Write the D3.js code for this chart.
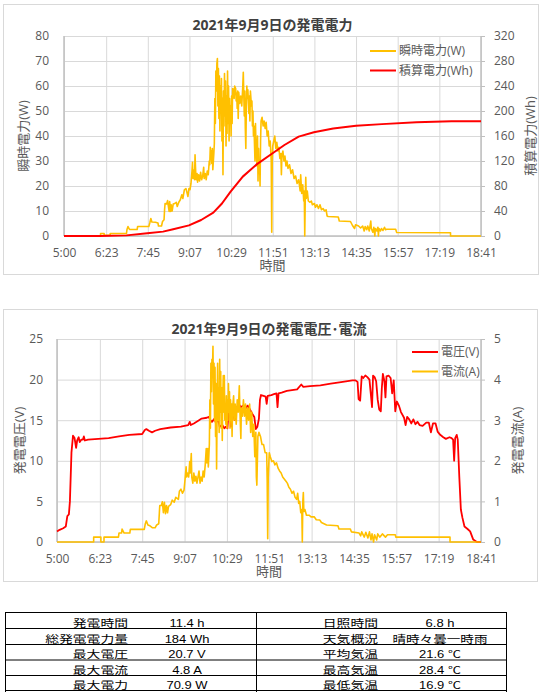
<!DOCTYPE html>
<html>
<head>
<meta charset="utf-8">
<style>
  body { margin: 0; background: #fff; }
  svg { display: block; }
  .grid line { stroke: #d9d9d9; stroke-width: 1; }
  .grid .domain { display: none; }
  .title { font-family: "Open Sans", "Noto Sans CJK JP", sans-serif; font-size: 14px; font-weight: bold; fill: #404040; }
  .axtitle { font-family: "Open Sans", "Noto Sans CJK JP", sans-serif; font-size: 13px; fill: #595959; }
  .legend text { font-family: "Open Sans", "Noto Sans CJK JP", sans-serif; font-size: 12px; fill: #595959; }
  .tbl-label { font-family: "Noto Sans CJK JP", sans-serif; font-size: 10px; fill: #000; }
  .tbl-value { font-family: "Liberation Sans", "Noto Sans CJK JP", sans-serif; font-size: 10px; fill: #000; }
</style>
</head>
<body>
<svg width="545" height="696"></svg>
<script src="https://cdn.jsdelivr.net/npm/d3@7"></script>
<script>
// ---- data ----
var timeTicks = ["5:00","6:23","7:45","9:07","10:29","11:51","13:13","14:35","15:57","17:19","18:41"];
var powerTicks = [0,10,20,30,40,50,60,70,80];
var energyTicks = [0,40,80,120,160,200,240,280,320];
var voltTicks = [0,5,10,15,20,25];
var ampTicks = [0,1,2,3,4,5];

// 瞬時電力 (W)
var power = [["5:00",0],["6:12",0],["6:12",1],["6:19",1],["6:19",0.3],["6:31",0.3],["6:31",1],["7:03",1],["7:04",2.6],["7:06",3.8],["7:09",2.6],["7:24",2.6],["7:25",3.8],["7:47",3.8],["7:49",5.3],["7:51",7.0],["7:53",5.6],["8:00",5.5],["8:05",5.2],["8:06",4.0],["8:12",4.0],["8:14",5.8],["8:17",6.5],["8:18",10.5],["8:19",13.0],["8:22",12.8],["8:24",14.2],["8:25",12.5],["8:27",9.8],["8:28",13.8],["8:30",9.8],["8:31",12.5],["8:33",10.0],["8:35",12.8],["8:38",13.0],["8:41",13.5],["8:43",11.8],["8:46",13.5],["8:49",14.5],["8:52",16.5],["8:54",15.0],["8:57",18.5],["9:00",19.0],["9:02",17.5],["9:04",15.8],["9:06",19.0],["9:08",18.5],["9:10",21.0],["9:12",26.0],["9:13",29.5],["9:14",23.0],["9:16",26.5],["9:17",22.5],["9:18",32.5],["9:19",27.0],["9:20",22.5],["9:22",25.0],["9:23",21.5],["9:25",24.5],["9:27",22.0],["9:29",25.5],["9:31",22.5],["9:33",24.0],["9:35",27.5],["9:36",23.0],["9:38",25.0],["9:40",22.5],["9:42",26.0],["9:44",24.5],["9:46",30.0],["9:47",28.5],["9:48",35.5],["9:49",30.5],["9:50",34.0],["9:51",29.0],["9:52",35.0],["9:53",26.5],["9:55",33.0],["9:56",37.0],["9:57",55.0],["9:58",45.0],["9:59",66.0],["10:00",58.0],["10:01",69.0],["10:02",71.0],["10:03",52.0],["10:04",67.0],["10:05",47.0],["10:06",64.0],["10:07",42.0],["10:08",60.0],["10:09",50.0],["10:10",63.0],["10:11",38.0],["10:12",55.0],["10:13",24.5],["10:14",58.0],["10:15",44.0],["10:16",65.0],["10:17",48.0],["10:18",62.0],["10:19",36.0],["10:20",56.0],["10:21",41.0],["10:22",66.0],["10:23",45.0],["10:24",60.0],["10:25",38.0],["10:26",55.0],["10:27",46.0],["10:28",52.0],["10:29",40.0],["10:30",56.0],["10:31",45.0],["10:32",59.0],["10:34",58.5],["10:35",55.0],["10:36",60.0],["10:38",59.0],["10:39",54.0],["10:40",57.0],["10:41",51.0],["10:42",58.0],["10:43",47.0],["10:44",57.5],["10:46",53.0],["10:48",56.0],["10:50",52.0],["10:52",60.0],["10:53",65.5],["10:54",56.0],["10:55",48.0],["10:56",58.0],["10:57",43.0],["10:58",35.0],["10:59",52.0],["11:00",60.0],["11:01",55.0],["11:02",58.5],["11:04",49.0],["11:05",56.0],["11:06",46.0],["11:07",58.0],["11:09",52.0],["11:10",54.0],["11:11",44.0],["11:12",50.0],["11:13",40.0],["11:14",44.0],["11:16",30.0],["11:17",45.0],["11:18",36.0],["11:20",28.0],["11:21",40.0],["11:22",22.0],["11:23",35.0],["11:24",25.0],["11:25",30.0],["11:26",20.0],["11:27",38.0],["11:28",46.0],["11:30",47.5],["11:32",44.0],["11:34",46.0],["11:36",43.0],["11:38",45.5],["11:40",40.0],["11:42",42.0],["11:44",36.0],["11:46",38.0],["11:48",30.0],["11:49",1.5],["11:50",30.0],["11:51",36.0],["11:53",38.0],["11:55",40.0],["11:57",35.0],["11:59",37.5],["12:01",34.0],["12:03",35.5],["12:05",31.0],["12:07",33.0],["12:08",24.5],["12:09",32.0],["12:11",34.0],["12:13",30.0],["12:15",32.0],["12:17",28.0],["12:19",30.0],["12:21",27.0],["12:24",28.5],["12:27",25.0],["12:30",26.5],["12:33",23.0],["12:36",24.0],["12:39",21.0],["12:42",22.5],["12:45",18.0],["12:46",24.5],["12:48",17.0],["12:50",20.5],["12:52",14.0],["12:53",18.0],["12:54",0],["12:55",15.0],["12:56",23.5],["12:57",15.0],["12:59",18.0],["13:01",14.0],["13:04",13.5],["13:07",14.0],["13:09",12.5],["13:13",13.0],["13:15",11.5],["13:18",12.5],["13:21",11.0],["13:24",12.5],["13:27",10.5],["13:30",11.0],["13:33",10.0],["13:36",10.5],["13:38",8.0],["13:40",7.8],["14:00",7.6],["14:02",6.0],["14:24",5.8],["14:26",5.0],["14:28",4.2],["14:32",3.0],["14:34",4.5],["14:40",4.0],["14:44",3.2],["14:48",4.0],["14:51",2.0],["14:53",3.8],["14:56",2.5],["14:58",4.0],["15:01",2.0],["15:04",6.0],["15:05",3.0],["15:08",1.5],["15:10",3.5],["15:12",0],["15:13",3.0],["15:16",2.0],["15:18",3.5],["15:19",0],["15:20",3.0],["15:23",2.0],["15:25",3.0],["15:28",2.2],["15:31",3.5],["15:33",2.5],["15:35",2.7],["15:53",2.7],["15:55",1.4],["17:41",1.3],["17:41",0],["18:41",0]];

// 積算電力 (Wh)
var energy = [["5:00",0],["6:10",0],["7:03",1],["7:44",4.3],["8:15",7],["8:35",10.7],["9:06",17],["9:30",25.6],["9:54",37.3],["10:11",52],["10:28",71],["10:52",95],["11:20",115],["11:50",132],["12:14",145.6],["12:42",159],["13:12",166],["13:50",172],["14:35",176.5],["15:26",179],["16:34",182],["17:43",183.5],["18:41",183.5]];

// 電圧 (V)
var voltage = [["5:00",1.3],["5:05",1.5],["5:12",1.7],["5:17",1.9],["5:20",3.2],["5:23",3.4],["5:25",5.0],["5:28",11.0],["5:31",13.1],["5:34",12.8],["5:37",11.6],["5:39",12.5],["5:42",12.9],["5:44",12.3],["5:47",12.6],["5:50",12.6],["5:52",13.0],["5:54",12.5],["6:00",12.6],["6:20",12.7],["6:40",12.8],["7:00",13.0],["7:20",13.2],["7:45",13.3],["7:50",13.8],["7:53",13.9],["7:58",13.7],["8:04",13.5],["8:10",13.7],["8:20",13.9],["8:40",14.1],["9:00",14.2],["9:07",14.3],["9:14",14.4],["9:17",14.8],["9:19",14.4],["9:25",14.6],["9:35",15.0],["9:40",15.2],["9:50",15.3],["9:54",15.4],["9:57",15.0],["10:00",14.8],["10:05",15.2],["10:08",14.6],["10:12",15.2],["10:15",14.2],["10:20",14.4],["10:24",14.0],["10:27",14.2],["10:30",14.0],["10:32",15.8],["10:35",16.0],["10:37",14.2],["10:40",16.2],["10:44",15.0],["10:48",16.5],["10:52",17.0],["10:56",16.6],["11:00",16.8],["11:05",16.4],["11:09",16.8],["11:13",16.4],["11:18",15.8],["11:22",15.4],["11:25",13.9],["11:28",14.2],["11:31",15.2],["11:33",17.5],["11:35",18.1],["11:40",18.0],["11:44",17.9],["11:46",17.0],["11:48",18.0],["11:55",18.1],["12:00",18.2],["12:05",18.3],["12:07",16.6],["12:09",18.3],["12:15",18.4],["12:25",18.6],["12:35",18.7],["12:45",18.8],["12:53",19.4],["12:57",19.1],["13:10",19.2],["13:30",19.3],["13:50",19.5],["14:10",19.7],["14:32",19.9],["14:38",19.9],["14:42",19.7],["14:44",17.6],["14:47",17.4],["14:50",20.4],["14:53",20.2],["14:57",20.5],["15:01",20.3],["15:05",20.0],["15:08",18.0],["15:10",16.6],["15:12",20.5],["15:15",20.3],["15:18",19.8],["15:21",17.5],["15:24",16.3],["15:27",16.1],["15:29",19.0],["15:31",20.7],["15:34",19.8],["15:36",17.8],["15:38",20.4],["15:42",20.5],["15:46",20.2],["15:49",18.3],["15:52",19.9],["15:55",16.1],["15:58",17.3],["16:02",16.8],["16:06",16.0],["16:12",15.3],["16:15",14.4],["16:18",15.4],["16:22",15.1],["16:26",14.6],["16:30",15.1],["16:34",14.5],["16:38",14.8],["16:42",14.4],["16:48",14.3],["16:55",14.7],["17:00",14.7],["17:04",13.5],["17:08",14.6],["17:13",14.6],["17:17",13.6],["17:22",13.2],["17:28",12.9],["17:33",12.7],["17:40",12.9],["17:44",12.8],["17:47",12.6],["17:49",10.0],["17:51",12.8],["17:54",13.2],["17:56",12.6],["17:59",8.0],["18:02",4.0],["18:05",3.0],["18:09",1.9],["18:15",1.6],["18:20",1.3],["18:26",0.3],["18:33",0],["18:41",0]];

// 電流 (A)
var current = [["5:00",0],["6:11",0],["6:11",0.12],["6:25",0.12],["6:25",0],["6:31",0],["6:31",0.12],["6:59",0.12],["7:00",0.22],["7:05",0.22],["7:06",0.32],["7:10",0.22],["7:21",0.22],["7:22",0.31],["7:49",0.31],["7:51",0.45],["7:53",0.52],["7:56",0.42],["8:00",0.4],["8:05",0.35],["8:10",0.35],["8:13",0.42],["8:17",0.45],["8:19",0.9],["8:22",0.9],["8:24",0.99],["8:26",0.72],["8:28",0.98],["8:30",0.7],["8:32",0.9],["8:34",0.72],["8:36",0.88],["8:40",0.92],["8:43",1.03],["8:47",0.98],["8:50",1.1],["8:55",1.05],["8:57",1.25],["9:00",1.3],["9:03",1.2],["9:06",1.28],["9:08",1.55],["9:10",1.85],["9:11",1.6],["9:13",1.7],["9:15",1.6],["9:17",1.98],["9:18",1.7],["9:20",2.18],["9:21",1.6],["9:23",1.45],["9:25",1.7],["9:27",1.5],["9:29",1.62],["9:31",1.45],["9:33",1.6],["9:35",1.75],["9:37",1.45],["9:39",1.6],["9:41",1.5],["9:43",1.75],["9:45",1.6],["9:47",1.9],["9:49",2.3],["9:50",1.95],["9:52",2.3],["9:53",1.85],["9:55",2.4],["9:56",3.5],["9:57",2.8],["9:58",4.4],["9:59",3.7],["10:00",4.5],["10:01",4.2],["10:02",4.82],["10:03",3.4],["10:04",4.4],["10:05",3.0],["10:06",4.3],["10:07",2.6],["10:08",3.9],["10:09",1.8],["10:10",3.2],["10:11",4.4],["10:12",3.0],["10:13",3.8],["10:14",2.7],["10:15",4.5],["10:16",3.2],["10:17",4.2],["10:18",2.8],["10:19",3.8],["10:20",2.5],["10:21",3.6],["10:22",4.1],["10:23",3.2],["10:24",4.1],["10:25",3.0],["10:26",3.4],["10:27",2.9],["10:28",3.6],["10:29",2.8],["10:30",3.5],["10:31",3.0],["10:32",3.9],["10:33",3.2],["10:34",3.7],["10:35",2.8],["10:36",3.5],["10:37",3.0],["10:38",3.4],["10:39",2.6],["10:40",3.3],["10:42",3.6],["10:43",3.0],["10:45",3.4],["10:47",2.9],["10:49",3.5],["10:51",3.2],["10:53",3.85],["10:54",3.3],["10:56",2.55],["10:57",3.3],["10:59",3.1],["11:01",3.5],["11:03",3.1],["11:05",3.4],["11:07",2.9],["11:09",3.3],["11:11",3.0],["11:13",3.4],["11:15",2.7],["11:17",3.2],["11:19",2.6],["11:21",2.9],["11:23",2.1],["11:25",2.7],["11:26",1.6],["11:27",1.4],["11:29",2.6],["11:31",2.7],["11:34",2.6],["11:37",2.4],["11:40",2.4],["11:43",2.2],["11:46",2.2],["11:47",1.5],["11:48",0.08],["11:49",1.6],["11:51",2.2],["11:53",2.1],["11:56",1.98],["11:59",2.0],["12:02",1.9],["12:05",1.95],["12:08",1.82],["12:11",1.75],["12:14",1.7],["12:17",1.6],["12:20",1.55],["12:23",1.5],["12:26",1.45],["12:29",1.35],["12:32",1.3],["12:35",1.2],["12:38",1.25],["12:41",1.1],["12:44",1.05],["12:46",1.2],["12:48",0.95],["12:50",1.0],["12:52",0.72],["12:54",0.8],["12:55",0],["12:56",1.0],["12:57",1.22],["12:58",0.75],["13:00",0.8],["13:03",0.66],["13:08",0.66],["13:12",0.62],["13:18",0.62],["13:22",0.55],["13:29",0.54],["13:32",0.48],["13:42",0.42],["14:04",0.4],["14:06",0.32],["14:28",0.32],["14:30",0.25],["14:45",0.22],["14:48",0.15],["14:50",0.25],["14:55",0.12],["14:58",0.24],["15:02",0.1],["15:05",0.25],["15:08",0.05],["15:10",0.2],["15:13",0],["15:15",0.18],["15:19",0.05],["15:21",0.2],["15:25",0.12],["15:30",0.2],["15:36",0.12],["15:40",0.18],["15:55",0.18],["15:56",0.12],["17:41",0.12],["17:41",0],["18:41",0]];

// 集計表
var tableLeft = [["発電時間","11.4 h"],["総発電電力量","184 Wh"],["最大電圧","20.7 V"],["最大電流","4.8 A"],["最大電力","70.9 W"]];
var tableRight = [["日照時間","6.8 h"],["天気概況","晴時々曇一時雨"],["平均気温","21.6 ℃"],["最高気温","28.4 ℃"],["最低気温","16.9 ℃"]];

var svg = d3.select("svg");
var toMin = function(s) { var p = s.split(":"); return +p[0] * 60 + +p[1]; };
var FONT = '"Open Sans", "Noto Sans CJK JP", sans-serif';

function drawChart(o) {
    var g = svg.append("g");
    g.append("rect")
        .attr("x", o.box[0] + 0.5).attr("y", o.box[1] + 0.5)
        .attr("width", o.box[2]).attr("height", o.box[3])
        .attr("fill", "#fff").attr("stroke", "#d9d9d9");

    var x = d3.scaleLinear()
        .domain([toMin(timeTicks[0]), toMin(timeTicks[timeTicks.length - 1])])
        .range([o.left, o.right]);
    var yL = d3.scaleLinear().domain([0, d3.max(o.leftTicks)]).range([o.bottom, o.top]);
    var yR = d3.scaleLinear().domain([0, d3.max(o.rightTicks)]).range([o.bottom, o.top]);

    // grid
    g.append("g").attr("class", "grid")
        .attr("transform", "translate(" + o.left + ",0)")
        .call(d3.axisLeft(yL).tickValues(o.leftTicks).tickSize(-(o.right - o.left)).tickFormat(""));
    g.append("g").attr("class", "grid")
        .attr("transform", "translate(0," + o.top + ")")
        .call(d3.axisTop(x).tickValues(timeTicks.map(toMin)).tickSize(-(o.bottom - o.top)).tickFormat(""));

    // axis lines
    g.append("line").attr("x1", o.left).attr("x2", o.left).attr("y1", o.top).attr("y2", o.bottom)
        .attr("stroke", "#bfbfbf").attr("stroke-width", 1.5);
    g.append("line").attr("x1", o.right).attr("x2", o.right).attr("y1", o.top).attr("y2", o.bottom)
        .attr("stroke", "#bfbfbf").attr("stroke-width", 1.5);
    g.append("line").attr("x1", o.left).attr("x2", o.right).attr("y1", o.bottom).attr("y2", o.bottom)
        .attr("stroke", "#bfbfbf").attr("stroke-width", 1.5);

    // tick labels
    var styleAxis = function(sel) {
        sel.select(".domain").remove();
        sel.attr("font-family", FONT).attr("font-size", 12).attr("color", "#595959");
    };
    g.append("g").attr("transform", "translate(" + o.left + ",0)")
        .call(d3.axisLeft(yL).tickValues(o.leftTicks).tickSize(0).tickPadding(o.leftPad).tickFormat(d3.format("d")))
        .call(styleAxis);
    g.append("g").attr("transform", "translate(" + o.right + ",0)")
        .call(d3.axisRight(yR).tickValues(o.rightTicks).tickSize(4).tickPadding(9).tickFormat(d3.format("d")))
        .call(styleAxis)
        .selectAll("line").attr("stroke", "#bfbfbf");
    g.append("g").attr("transform", "translate(0," + o.bottom + ")")
        .call(d3.axisBottom(x).tickValues(timeTicks.map(toMin)).tickSize(0).tickPadding(12)
            .tickFormat(function(d, i) { return timeTicks[i]; }))
        .call(styleAxis);

    // titles
    g.append("text").attr("class", "title")
        .attr("x", (o.left + o.right) / 2).attr("y", o.titleY)
        .attr("text-anchor", "middle").text(o.title);
    g.append("text").attr("class", "axtitle")
        .attr("x", (o.left + o.right) / 2).attr("y", o.bottom + 34)
        .attr("text-anchor", "middle").text("時間");
    g.append("text").attr("class", "axtitle")
        .attr("transform", "translate(" + o.yTitleL + "," + (o.top + o.bottom) / 2 + ") rotate(-90)")
        .attr("text-anchor", "middle").attr("dy", "0.35em").text(o.leftTitle);
    g.append("text").attr("class", "axtitle")
        .attr("transform", "translate(" + o.yTitleR + "," + (o.top + o.bottom) / 2 + ") rotate(-90)")
        .attr("text-anchor", "middle").attr("dy", "0.35em").text(o.rightTitle);

    // series
    o.series.forEach(function(s) {
        var y = s.axis === "left" ? yL : yR;
        g.append("path")
            .datum(s.data)
            .attr("fill", "none")
            .attr("stroke", s.color)
            .attr("stroke-width", s.width)
            .attr("stroke-linejoin", "round")
            .attr("d", d3.line()
                .x(function(d) { return x(toMin(d[0])); })
                .y(function(d) { return y(d[1]); }));
    });

    // legend
    var legend = g.append("g").attr("class", "legend")
        .attr("transform", "translate(" + o.legend[0] + "," + o.legend[1] + ")")
        .selectAll("g")
        .data(o.legendItems)
        .enter().append("g")
        .attr("transform", function(d, i) { return "translate(0," + i * 19.5 + ")"; });
    legend.append("line").attr("x1", 0).attr("x2", 26)
        .attr("stroke", function(d) { return d.color; }).attr("stroke-width", 2);
    legend.append("text").attr("x", 29).attr("dy", "0.35em").text(function(d) { return d.name; });
}

var powerColor = "#ffc000", redColor = "#ff0000";

drawChart({
    box: [3, 4, 535, 270],
    left: 64, right: 481, top: 36, bottom: 236,
    leftTicks: powerTicks, rightTicks: energyTicks, leftPad: 15,
    title: "2021年9月9日の発電電力", titleY: 30,
    leftTitle: "瞬時電力(W)", rightTitle: "積算電力(Wh)",
    yTitleL: 23, yTitleR: 530,
    series: [
        {data: power, axis: "left", color: powerColor, width: 1.6},
        {data: energy, axis: "right", color: redColor, width: 2}
    ],
    legend: [370, 51],
    legendItems: [{name: "瞬時電力(W)", color: powerColor}, {name: "積算電力(Wh)", color: redColor}]
});

drawChart({
    box: [3, 309, 534, 272],
    left: 57, right: 481, top: 339, bottom: 542,
    leftTicks: voltTicks, rightTicks: ampTicks, leftPad: 14,
    title: "2021年9月9日の発電電圧･電流", titleY: 334,
    leftTitle: "発電電圧(V)", rightTitle: "発電電流(A)",
    yTitleL: 19, yTitleR: 517,
    series: [
        {data: voltage, axis: "left", color: redColor, width: 1.8},
        {data: current, axis: "right", color: powerColor, width: 1.6}
    ],
    legend: [412, 352],
    legendItems: [{name: "電圧(V)", color: redColor}, {name: "電流(A)", color: powerColor}]
});

// ---- table (the source picture is stretched sideways, hence the x scale) ----
var rowY = [612, 628, 644, 659.5, 675, 690];
var tbl = svg.append("g").attr("stroke", "#000").attr("stroke-width", 1);
rowY.forEach(function(y) {
    tbl.append("line").attr("x1", 5).attr("x2", 506).attr("y1", y + 0.5).attr("y2", y + 0.5);
});
[5, 256, 506].forEach(function(xv) {
    tbl.append("line").attr("x1", xv + 0.5).attr("x2", xv + 0.5).attr("y1", 612).attr("y2", 692);
});
function tableCol(rows, labelX, valueX) {
    rows.forEach(function(r, i) {
        var base = rowY[i + 1] - 1.5;
        svg.append("text").attr("class", "tbl-label")
            .attr("transform", "translate(" + labelX + "," + base + ") scale(1.38,1)")
            .attr("text-anchor", "end").text(r[0]);
        var isNum = /^[0-9]/.test(r[1]);
        svg.append("text").attr("class", isNum ? "tbl-value" : "tbl-label")
            .attr("transform", "translate(" + valueX + "," + base + ") scale(" + (isNum ? 1.3 : 1.36) + ",1)")
            .attr("text-anchor", "middle").text(r[1]);
    });
}
tableCol(tableLeft, 128, 187);
tableCol(tableRight, 378, 440);
</script>
</body>
</html>
